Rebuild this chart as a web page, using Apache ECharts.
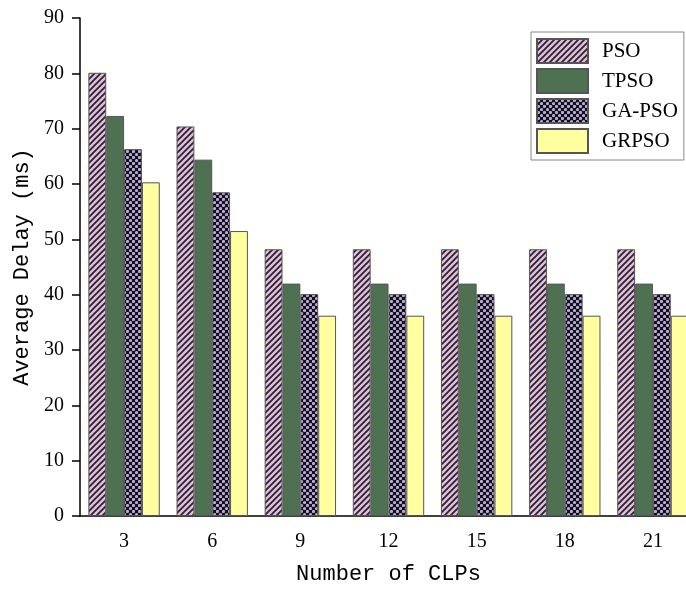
<!DOCTYPE html>
<html><head><meta charset="utf-8">
<script src="https://cdn.jsdelivr.net/npm/echarts@6/dist/echarts.min.js"></script>
<style>html,body{margin:0;padding:0;background:#fff;overflow:hidden;width:686px;height:590px}#c{width:720px;height:590px}</style>
</head><body><div id="c"></div>
<script>
const categories = ['3','6','9','12','15','18','21'];
const seriesNames = ['PSO','TPSO','GA-PSO','GRPSO'];
const psoValues = [80.1, 70.4, 48.2, 48.2, 48.2, 48.2, 48.2];
const tpsoValues = [72.3, 64.4, 42.0, 42.0, 42.0, 42.0, 42.0];
const gapsoValues = [66.3, 58.5, 40.1, 40.1, 40.1, 40.1, 40.1];
const grpsoValues = [60.3, 51.5, 36.2, 36.2, 36.2, 36.2, 36.2];

function stripePattern(){
  const s=6,c=document.createElement('canvas');c.width=c.height=s;
  const x=c.getContext('2d');
  x.fillStyle='#f0c88c';x.fillRect(0,0,s,s);
  x.strokeStyle='#1a1a9a';x.lineWidth=1.9;
  x.beginPath();
  x.moveTo(-1,s+1);x.lineTo(s+1,-1);
  x.moveTo(-s/2-1,s/2+1);x.lineTo(s/2+1,-s/2-1);
  x.moveTo(s/2-1,s*1.5+1);x.lineTo(s*1.5+1,s/2-1);
  x.stroke();
  return {image:c,repeat:'repeat'};
}
function dotPattern(){
  const s=6,c=document.createElement('canvas');c.width=c.height=s;
  const x=c.getContext('2d');
  x.fillStyle='#111';x.fillRect(0,0,s,s);
  x.fillStyle='#b9a8e2';
  [[1.5,1.5],[4.5,4.5]].forEach(p=>{x.beginPath();x.arc(p[0],p[1],1.6,0,Math.PI*2);x.fill();});
  return {image:c,repeat:'repeat'};
}
const fills=[stripePattern(),'#4e7251',dotPattern(),'#ffffa0'];
const vals=[psoValues,tpsoValues,gapsoValues,grpsoValues];

const chart=echarts.init(document.getElementById('c'),null,{renderer:'canvas'});
chart.setOption({
  animation:false,
  backgroundColor:'#fff',
  grid:{left:80,top:18,width:617,height:500,containLabel:false},
  legend:{
    orient:'vertical',left:531,top:32,
    itemWidth:51,itemHeight:24,itemGap:4,
    padding:[6,6,6,5],
    borderColor:'#888',borderWidth:1,
    backgroundColor:'#fff',
    icon:'rect',
    textStyle:{fontFamily:'Liberation Serif',fontSize:21,color:'#000',padding:[0,0,0,9]},
    data:seriesNames
  },
  xAxis:{
    type:'category',data:categories,
    name:'Number of CLPs',nameLocation:'middle',nameGap:47,
    nameTextStyle:{fontFamily:'Liberation Mono',fontSize:22,color:'#000'},
    axisLine:{lineStyle:{color:'#000',width:1.5}},
    axisTick:{alignWithLabel:true,length:10,lineStyle:{color:'#000',width:1.5}},
    axisLabel:{fontFamily:'Liberation Serif',fontSize:20,color:'#000',margin:16}
  },
  yAxis:{
    type:'value',min:0,max:90,interval:10,
    name:'Average Delay (ms)',nameLocation:'middle',nameGap:40,
    nameTextStyle:{fontFamily:'Liberation Mono',fontSize:22,color:'#000'},
    axisLine:{show:true,lineStyle:{color:'#000',width:1.5}},
    axisTick:{show:true,length:8,lineStyle:{color:'#000',width:1.5}},
    axisLabel:{fontFamily:'Liberation Serif',fontSize:20,color:'#000',margin:16},
    splitLine:{show:false}
  },
  series:seriesNames.map((n,i)=>({
    name:n,type:'bar',data:vals[i],
    barGap:'0%',barCategoryGap:'19%',
    itemStyle:{color:fills[i],borderColor:'#555',borderWidth:1}
  }))
});
</script></body></html>
